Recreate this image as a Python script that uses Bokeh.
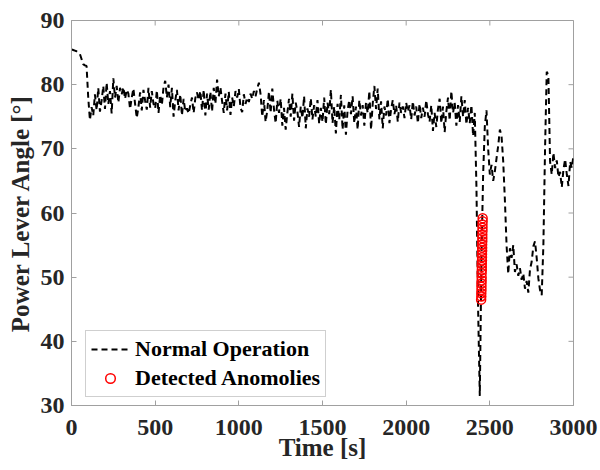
import numpy as np
from bokeh.plotting import figure
from bokeh.models import Range1d, FixedTicker, Legend, LegendItem
from bokeh.embed import file_html
from bokeh.resources import INLINE

# ---- data ----
time_s = np.arange(0, 3001, 10)
angle = [
    85.5, 85.4, 85.3, 85.2, 85.0, 84.8, 84.0, 83.2, 83.0, 82.9,
    78.0, 74.5, 76.5, 75.2, 78.5, 76.0, 79.5, 75.8, 77.5, 79.8,
    76.2, 80.3, 77.0, 79.0, 75.5, 81.0, 78.0, 79.8, 77.2, 79.5,
    78.5, 79.6, 77.8, 79.2, 78.6, 76.2, 78.0, 79.4, 77.0, 74.8,
    76.5, 78.8, 76.0, 79.2, 77.5, 76.1, 79.5, 76.4, 79.0, 77.0,
    76.3, 79.1, 75.6, 78.4, 76.8, 79.6, 80.6, 78.0, 80.0, 76.5,
    79.5, 75.0, 77.5, 79.2, 76.0, 78.5, 75.2, 77.8, 75.8, 76.3,
    75.5, 76.8, 78.0, 75.6, 77.9, 78.8, 77.6, 79.0, 76.0, 79.2,
    75.2, 78.6, 76.1, 78.9, 75.8, 79.5, 77.0, 80.8, 78.2, 79.6,
    77.4, 75.6, 78.6, 76.0, 78.9, 75.3, 78.0, 76.6, 79.0, 78.0,
    79.3, 76.4, 75.7, 78.5, 77.0, 78.0, 77.3, 78.6, 77.8, 79.0,
    78.2, 79.4, 80.3, 78.5, 75.0, 77.6, 74.2, 76.0, 78.9, 75.6,
    79.4, 76.2, 74.0, 77.5, 75.6, 77.8, 73.6, 76.4, 73.0, 75.6,
    77.8, 75.0, 78.6, 74.4, 77.2, 75.8, 73.4, 76.6, 74.8, 78.2,
    73.2, 76.3, 75.0, 77.9, 74.6, 76.8, 75.0, 77.6, 73.9, 76.4,
    74.2, 78.0, 73.8, 77.2, 75.4, 79.2, 74.0, 76.6, 72.4, 77.0,
    74.5, 78.4, 73.0, 76.8, 72.2, 76.0, 77.6, 75.4, 78.2, 74.0,
    76.6, 73.0, 77.6, 75.2, 76.8, 73.6, 77.2, 75.6, 79.0, 73.0,
    77.0, 79.8, 76.2, 79.4, 74.6, 77.4, 73.2, 76.6, 75.2, 77.8,
    74.0, 76.2, 77.6, 75.4, 76.8, 74.2, 77.2, 75.6, 76.6, 74.8,
    77.2, 75.8, 76.8, 74.6, 77.4, 75.2, 76.6, 74.0, 77.0, 74.8,
    76.4, 75.0, 77.6, 75.4, 74.2, 76.8, 72.8, 75.6, 73.4, 76.2,
    77.8, 74.0, 76.6, 72.6, 75.8, 78.0, 74.4, 79.0, 75.6, 77.2,
    73.6, 76.8, 74.2, 78.2, 75.0, 77.6, 73.8, 76.4, 74.0, 76.8,
    72.0, 75.6, 64.0, 45.0, 31.5, 53.0, 66.0, 73.5, 76.0, 70.0,
    66.0, 67.5, 65.0, 66.5, 68.5, 70.5, 73.0, 72.0, 68.0, 62.0,
    55.0, 50.5, 54.5, 53.0, 55.0, 50.8, 52.0, 50.2, 51.4, 49.6,
    50.6, 48.2, 49.4, 47.6, 51.2, 52.4, 54.8, 55.6, 53.0, 49.8,
    48.0, 47.2, 55.0, 70.0, 82.0, 81.5, 68.0, 66.0, 69.4, 67.0,
    68.2, 65.6, 66.4, 64.0, 66.8, 68.4, 66.0, 64.2, 68.0, 67.0,
    69.0,
]
anom_time = [2448, 2449, 2449, 2450, 2450, 2450, 2451, 2451, 2451, 2452,
             2452, 2452, 2453, 2453, 2453, 2454, 2454, 2454, 2455, 2455,
             2455, 2456, 2456, 2456, 2457, 2457]
anom_angle = [46.5, 47.0, 47.5, 48.0, 48.5, 49.0, 49.5, 50.0, 50.6, 51.1,
              51.6, 52.1, 52.6, 53.1, 53.6, 54.1, 54.6, 55.1, 55.6, 56.1,
              56.6, 57.2, 57.7, 58.2, 58.7, 59.2]
x_ticks = [0, 500, 1000, 1500, 2000, 2500, 3000]
y_ticks = [30, 40, 50, 60, 70, 80, 90]

FONT = "Liberation Serif"
AXC = "#a0a0a0"
TXT = "#262626"

x_lo, x_hi = x_ticks[0], x_ticks[-1]
y_lo, y_hi = y_ticks[0], y_ticks[-1]

p = figure(width=600, height=470, output_backend="svg", toolbar_location=None,
           x_range=Range1d(x_lo, x_hi), y_range=Range1d(y_lo, y_hi),
           min_border_left=71, min_border_right=27, min_border_top=20,
           min_border_bottom=65)
p.grid.visible = False
p.outline_line_color = AXC
p.outline_line_width = 1
p.background_fill_color = "white"
p.border_fill_color = "white"

p.xaxis.axis_label = "Time [s]"
p.yaxis.axis_label = "Power Lever Angle [°]"
p.xaxis.ticker = FixedTicker(ticks=x_ticks)
p.yaxis.ticker = FixedTicker(ticks=y_ticks)
for ax in (p.xaxis[0], p.yaxis[0]):
    ax.axis_line_color = AXC
    ax.major_tick_line_color = AXC
    ax.major_tick_in = 5
    ax.major_tick_out = 0
    ax.minor_tick_line_color = None
    ax.major_label_text_font = FONT
    ax.major_label_text_font_style = "bold"
    ax.major_label_text_font_size = "24px"
    ax.major_label_text_color = TXT
    ax.axis_label_text_font = FONT
    ax.axis_label_text_font_style = "bold"
    ax.axis_label_text_font_size = "25px"
    ax.axis_label_text_color = TXT
p.xaxis.major_label_standoff = 14
p.xaxis.axis_label_standoff = -4
p.yaxis.major_label_standoff = 7
p.yaxis.axis_label_standoff = 4

# tick marks on the right and top edges of the box (clipped dash markers)
p.scatter([x_hi] * len(y_ticks), y_ticks, marker="dash", size=10,
          line_color=AXC, line_width=1)
p.scatter(x_ticks, [y_hi] * len(x_ticks), marker="dash", size=10, angle=np.pi / 2,
          line_color=AXC, line_width=1)

r_line = p.line(time_s, angle, line_color="black", line_width=2, line_dash="6 4")
r_sc = p.scatter(anom_time, anom_angle, marker="circle", size=9,
                 fill_color=None, line_color="red", line_width=1.5)

legend = Legend(items=[LegendItem(label="Normal Operation", renderers=[r_line]),
                       LegendItem(label="Detected Anomolies", renderers=[r_sc])],
                location=(14, 8))
legend.label_text_font = FONT
legend.label_text_font_style = "bold"
legend.label_text_font_size = "22px"
legend.label_text_color = "black"
legend.border_line_color = AXC
legend.border_line_width = 1
legend.background_fill_color = "white"
legend.background_fill_alpha = 1
legend.padding = 5
legend.spacing = 3
legend.margin = 0
legend.glyph_width = 38
legend.glyph_height = 24
legend.label_height = 24
legend.label_standoff = 6
p.add_layout(legend)

open("out.html", "w").write(file_html(p, INLINE))
